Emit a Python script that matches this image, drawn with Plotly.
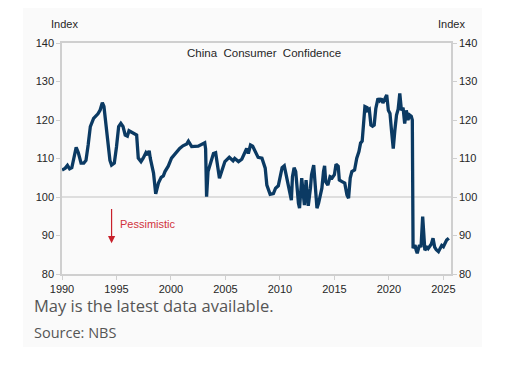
import plotly.graph_objects as go

# Decimal-year positions and China consumer confidence index values
years = [
    1990.0, 1990.3, 1990.5, 1990.7, 1990.9, 1991.1, 1991.3, 1991.5, 1991.75, 1992.0,
    1992.2, 1992.4, 1992.6, 1992.9, 1993.3, 1993.5, 1993.7, 1993.85, 1993.95, 1994.2,
    1994.4, 1994.55, 1994.8, 1995.0, 1995.2, 1995.4, 1995.6, 1995.8, 1996.0, 1996.15,
    1996.55, 1996.85, 1997.0, 1997.25, 1997.45, 1997.7, 1997.85, 1998.0, 1998.1, 1998.4,
    1998.6, 1998.85, 1999.1, 1999.3, 1999.45, 1999.75, 2000.05, 2000.5, 2000.8, 2001.1,
    2001.45, 2001.6, 2001.9, 2002.5, 2003.1, 2003.18, 2003.27, 2003.4, 2003.9, 2004.1,
    2004.3, 2004.45, 2004.65, 2004.95, 2005.35, 2005.7, 2005.85, 2006.2, 2006.5, 2006.8,
    2006.95, 2007.1, 2007.3, 2007.5, 2007.7, 2008.0, 2008.35, 2008.65, 2008.8, 2009.1,
    2009.4, 2009.6, 2009.85, 2010.0, 2010.2, 2010.4, 2010.5, 2010.75, 2010.95, 2011.05,
    2011.15, 2011.3, 2011.45, 2011.55, 2011.7, 2011.8, 2011.9, 2012.0, 2012.15, 2012.25,
    2012.4, 2012.55, 2012.6, 2012.8, 2012.9, 2013.1, 2013.25, 2013.4, 2013.55, 2013.7,
    2013.85, 2014.0, 2014.1, 2014.2, 2014.4, 2014.6, 2014.8, 2015.0, 2015.15, 2015.35,
    2015.45, 2015.7, 2015.95, 2016.15, 2016.3, 2016.45, 2016.6, 2016.85, 2017.05, 2017.25,
    2017.4, 2017.55, 2017.65, 2017.8, 2018.0, 2018.05, 2018.2, 2018.35, 2018.5, 2018.65,
    2018.8, 2019.0, 2019.15, 2019.3, 2019.45, 2019.6, 2019.8, 2019.95, 2020.1, 2020.25,
    2020.4, 2020.55, 2020.7, 2020.85, 2021.0, 2021.15, 2021.3, 2021.45, 2021.6, 2021.75,
    2021.9, 2022.05, 2022.15, 2022.22, 2022.4, 2022.5, 2022.6, 2022.8, 2022.95, 2023.1,
    2023.25, 2023.3, 2023.5, 2023.6, 2023.8, 2023.9, 2024.05, 2024.2, 2024.35, 2024.55,
    2024.7, 2024.85, 2025.0, 2025.15, 2025.3, 2025.5,
]
confidence = [
    107.0, 107.5, 108.2, 107.3, 107.6, 110.5, 112.9, 111.5, 108.8, 108.8,
    109.5, 113.5, 118.3, 120.4, 121.6, 122.6, 124.5, 123.5, 120.9, 113.1,
    109.5, 108.3, 108.8, 113.0, 118.3, 119.1, 118.3, 116.1, 115.8, 117.2,
    116.7, 116.1, 110.1, 109.2, 110.1, 111.5, 110.9, 112.0, 110.1, 106.2,
    100.8, 103.6, 105.1, 105.5, 106.6, 108.0, 110.1, 111.8, 112.6, 113.3,
    113.8, 114.5, 113.1, 113.2, 114.1, 112.5, 100.1, 106.6, 111.3, 111.5,
    108.0, 104.9, 106.6, 109.2, 110.3, 109.4, 110.0, 109.2, 109.8, 111.8,
    112.6, 111.3, 113.5, 113.2, 112.2, 110.3, 110.1, 107.5, 103.1, 100.7,
    100.9, 102.3, 102.9, 104.9, 107.6, 108.1, 106.8, 103.6, 100.5, 99.2,
    105.3, 107.6, 106.6, 103.1, 98.4, 97.1, 102.3, 104.9, 100.5, 97.9,
    104.4, 100.5, 97.7, 102.3, 105.8, 108.3, 103.1, 97.1, 98.4, 100.5,
    102.3, 106.6, 108.1, 104.0, 103.1, 105.3, 105.0, 105.8, 108.5, 108.0,
    104.4, 104.0, 103.6, 100.5, 99.7, 104.9, 106.6, 107.0, 110.1, 111.8,
    114.0, 114.5, 118.7, 123.5, 123.2, 122.5, 122.8, 118.7, 118.4, 118.7,
    123.0, 125.6, 125.0, 125.6, 124.4, 125.4, 126.5, 122.5, 121.7, 117.0,
    112.6, 117.4, 121.3, 122.8, 126.9, 122.5, 123.2, 119.1, 122.5, 120.0,
    121.3, 121.0, 120.0, 86.7, 87.5, 86.2, 85.4, 87.5, 87.0, 94.9,
    89.0, 86.2, 86.9, 86.6, 87.4, 87.8, 89.3, 87.0, 86.3, 85.8,
    86.6, 87.4, 87.1, 88.1, 88.8, 89.3,
]

x_ticks = [1990, 1995, 2000, 2005, 2010, 2015, 2020, 2025]
y_ticks = [80, 90, 100, 110, 120, 130, 140]

# The page body has an 8px margin, so the figure is 8px smaller than the window
OFF = 8
W, H = 507 - OFF, 365 - OFF
L, R, T, B = 62, 451, 43, 274  # plot-area pixel box in window coordinates


def px(xp):
    return (xp - L) / (R - L)


def py(yp):
    return (B - yp) / (B - T)


LINE = "#0b3a63"
AXC = "#cfcfcf"
TXT = "#262626"
tickfont = dict(family="Liberation Sans, Arial, sans-serif", size=11, color=TXT)

fig = go.Figure()
fig.add_trace(go.Scatter(x=years, y=confidence, mode="lines",
                         line=dict(color=LINE, width=3.3), hoverinfo="skip",
                         showlegend=False))
fig.add_trace(go.Scatter(x=years, y=confidence, mode="lines", yaxis="y2",
                         line=dict(color="rgba(0,0,0,0)", width=0), hoverinfo="skip",
                         showlegend=False))

fig.update_layout(
    width=W, height=H,
    margin=dict(l=L - OFF, r=507 - R, t=T - OFF, b=365 - B, pad=0),
    paper_bgcolor="white",
    plot_bgcolor="rgba(0,0,0,0)",
    xaxis=dict(range=[1990, 2025.7], tickvals=x_ticks, ticktext=[str(v) for v in x_ticks],
               showgrid=False, zeroline=False, showline=True, linecolor=AXC, linewidth=1.5,
               mirror=True, ticks="outside", ticklen=4, tickcolor=AXC, tickfont=tickfont),
    yaxis=dict(range=[80, 140], tickvals=y_ticks, showgrid=False, zeroline=False,
               showline=True, linecolor=AXC, linewidth=1.5, ticks="outside", ticklen=4,
               tickcolor=AXC, tickfont=tickfont),
    yaxis2=dict(range=[80, 140], tickvals=y_ticks, overlaying="y", side="right",
                showgrid=False, zeroline=False, showline=True, linecolor=AXC, linewidth=1.5,
                ticks="outside", ticklen=4, tickcolor=AXC, tickfont=tickfont),
    shapes=[
        dict(type="rect", xref="paper", yref="paper", x0=px(23), x1=px(482), y0=py(347), y1=py(8),
             fillcolor="#fafafa", line=dict(width=0), layer="below"),
        dict(type="line", xref="paper", yref="y", x0=0, x1=1, y0=100, y1=100,
             line=dict(color="#d4d4d4", width=1.5), layer="below"),
    ],
)

annots = [
    dict(text="Index", x=px(64), y=py(24), font=tickfont),
    dict(text="Index", x=px(451), y=py(24), font=tickfont),
    dict(text="China  Consumer  Confidence", x=px(264), y=py(53),
         font=dict(family="Liberation Sans, Arial, sans-serif", size=11.5, color=TXT)),
    dict(text="Pessimistic", x=px(118), y=py(224), xanchor="left",
         font=dict(family="Liberation Sans, Arial, sans-serif", size=11, color="#d1323c")),
    dict(text="May is the latest data available.", x=px(32), y=py(305), xanchor="left",
         font=dict(family="Open Sans, sans-serif", size=16.5, color="#555555")),
    dict(text="Source: NBS", x=px(32), y=py(332), xanchor="left",
         font=dict(family="Open Sans, sans-serif", size=14.5, color="#555555")),
]
for a in annots:
    a.setdefault("xanchor", "center")
    fig.add_annotation(xref="paper", yref="paper", yanchor="middle", showarrow=False, **a)

fig.add_annotation(x=1994.55, y=88.0, ax=1994.55, ay=97.3, xref="x", yref="y",
                   axref="x", ayref="y", text="", showarrow=True, arrowhead=2,
                   arrowsize=1.2, arrowwidth=1.2, arrowcolor="#c8202b")

fig.write_html("out.html")
